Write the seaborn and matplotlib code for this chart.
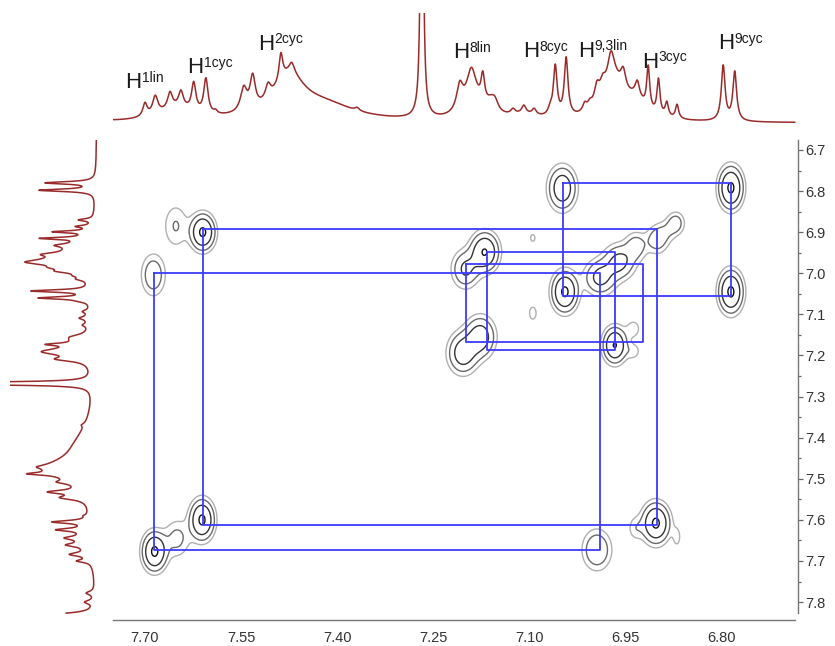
import numpy as np
import pandas as pd
import matplotlib
matplotlib.use("Agg")
import matplotlib.pyplot as plt
import matplotlib.transforms as mtransforms
from matplotlib.ticker import FixedLocator, FixedFormatter
import seaborn as sns

# ---------------- 1D 1H spectrum (projection), peak list -------------
peak_ppm = [7.650, 7.475, 7.420, 7.190, 7.160, 7.110, 6.970, 6.935,
            7.700, 7.684, 7.661, 7.644, 7.624, 7.605, 7.590,
            7.546, 7.532, 7.508, 7.488, 7.471, 7.369, 7.268,
            7.209, 7.191, 7.173, 7.154, 7.126, 7.109, 7.093, 7.068,
            7.060, 7.043, 7.014, 7.006, 6.995, 6.986, 6.973, 6.954,
            6.932, 6.915, 6.899, 6.886, 6.870, 6.798, 6.780,
            7.778, 7.800, 7.832]
peak_height = [12, 40, 15, 32, 12, 5, 38, 16,
               13, 18, 16, 16, 28, 35, 3,
               23, 32, 14, 27, 10, 3, 500,
               25, 16, 28, 8, 5, 8, 6, 6,
               50, 58, 8, 6, 18, 13, 26, 20,
               15, 42, 35, 14, 14, 55, 49,
               8, 9, 50]
peak_hwhm = [0.035, 0.030, 0.060, 0.014, 0.010, 0.030, 0.020, 0.020,
             0.004, 0.005, 0.0045, 0.0045, 0.004, 0.004, 0.003,
             0.006, 0.005, 0.005, 0.0035, 0.005, 0.004, 0.0019,
             0.006, 0.007, 0.0035, 0.006, 0.004, 0.004, 0.004, 0.004,
             0.0035, 0.0035, 0.004, 0.004, 0.005, 0.005, 0.006, 0.005,
             0.004, 0.0028, 0.0028, 0.003, 0.003, 0.0035, 0.0035,
             0.005, 0.005, 0.006]

# ---------------- 2D COSY peaks (F2 ppm, F1 ppm, amplitude, widths) -------------------------
pk_f2 = [6.786, 6.786, 7.049, 7.045,
         7.610, 7.652, 7.687,
         7.685, 7.650, 7.611,
         6.995, 6.903, 6.935, 6.870,
         7.170, 7.200, 7.177, 7.204,
         7.095, 7.095,
         6.990, 6.960, 6.934, 6.901, 6.886, 6.872,
         6.967, 6.938, 6.938]
pk_f1 = [6.792, 7.045, 6.793, 7.045,
         6.900, 6.885, 7.004,
         7.677, 7.645, 7.600,
         7.673, 7.608, 7.620, 7.642,
         6.948, 6.990, 7.155, 7.194,
         6.914, 7.097,
         7.010, 6.972, 6.934, 6.918, 6.898, 6.878,
         7.175, 7.135, 7.190]
pk_amp = [8.5, 8.5, 6.5, 8.5,
          8.5, 2.1, 3.5,
          8.5, 2.5, 8.5,
          4.0, 8.5, 1.6, 1.3,
          8.0, 4.5, 6.0, 6.0,
          1.25, 1.3,
          5.0, 5.0, 3.0, 3.2, 1.4, 3.0,
          8.0, 1.6, 1.5]
pk_sx = [0.0113, 0.0113, 0.013, 0.012,
         0.0113, 0.0128, 0.0118,
         0.0113, 0.013, 0.0113,
         0.014, 0.0128, 0.008, 0.005,
         0.013, 0.013, 0.014, 0.014,
         0.005, 0.007,
         0.015, 0.015, 0.011, 0.011, 0.010, 0.009,
         0.011, 0.008, 0.008]
pk_sy = [0.0306, 0.0306, 0.0316, 0.029,
         0.026, 0.036, 0.032,
         0.028, 0.030, 0.029,
         0.0306, 0.029, 0.020, 0.020,
         0.028, 0.028, 0.030, 0.030,
         0.012, 0.020,
         0.026, 0.026, 0.022, 0.022, 0.018, 0.018,
         0.026, 0.016, 0.014]
contour_levels = [1.0, 2.0, 4.0, 7.8]
contour_colors = ["#b0b0b0", "#6a6a6a", "#333333", "#111111"]

# ---------------- connectivity rectangles ---------------------------------------------------
rect_f2_a = [7.048, 7.610, 7.686, 7.166, 7.200]
rect_f2_b = [6.786, 6.901, 6.990, 6.967, 6.923]
rect_f1_a = [6.780, 6.892, 6.999, 6.948, 6.978]
rect_f1_b = [7.055, 7.612, 7.673, 7.187, 7.166]

# ---------------- assignments on the top trace ---------------------------------------------
label_sup = ["1lin", "1cyc", "2cyc", "8lin", "8cyc", "9,3lin", "3cyc", "9cyc"]
label_ppm = [7.731, 7.634, 7.524, 7.220, 7.110, 7.025, 6.925, 6.806]
label_h = [35, 50, 73, 65, 66, 66, 55, 74]

# axis ticks
xtick_major = [7.75, 7.70, 7.65, 7.60, 7.55, 7.50, 7.45, 7.40, 7.35, 7.30, 7.25, 7.20,
               7.15, 7.10, 7.05, 7.00, 6.95, 6.90, 6.85, 6.80, 6.75, 6.70]
xtick_labels = ["", "7.70", "", "", "7.55", "", "", "7.40", "", "", "7.25", "",
                "", "7.10", "", "", "6.95", "", "", "6.80", "", ""]
ytick_major = [6.7, 6.8, 6.9, 7.0, 7.1, 7.2, 7.3, 7.4, 7.5, 7.6, 7.7, 7.8]

# ==========================================================================================
sns.set_style("white")
plt.rcParams["font.family"] = ["Liberation Sans", "DejaVu Sans"]

W, H = 835, 646
fig = plt.figure(figsize=(W / 100, H / 100), dpi=100)

def box(x0, y0, x1, y1):
    return [x0 / W, 1 - y1 / H, (x1 - x0) / W, (y1 - y0) / H]

XL = (7.7499, 6.6813)
YL = (7.8436, 6.6757)

ax = fig.add_axes(box(113, 140, 798, 620))
ax_top = fig.add_axes(box(113, 13, 798, 127))
ax_side = fig.add_axes(box(10, 140, 100, 620))

# ---- 1D spectrum
def spectrum(ppm):
    s = np.zeros_like(ppm)
    for c, h, w in zip(peak_ppm, peak_height, peak_hwhm):
        s += h / (1 + ((ppm - c) / w) ** 2)
    return s

red = "#9a2b2b"
pt = np.linspace(7.7499, 6.686, 4000)
df_top = pd.DataFrame({"ppm": pt, "I": spectrum(pt)})
sns.lineplot(data=df_top, x="ppm", y="I", ax=ax_top, color=red, lw=1.1,
             estimator=None, sort=False)
ax_top.set_xlim(*XL)
ax_top.set_ylim(-4, 110)
ax_top.axis("off")

ps = np.linspace(6.676, 7.827, 4000)
df_side = pd.DataFrame({"ppm": ps, "I": spectrum(ps)})
sns.lineplot(data=df_side, x="I", y="ppm", ax=ax_side, color=red, lw=1.1,
             estimator=None, sort=False)
ax_side.set_ylim(*YL)
ax_side.set_xlim(87, -3)
ax_side.axis("off")

for sup, lp, lh in zip(label_sup, label_ppm, label_h):
    ax_top.text(lp, lh, "H", fontsize=16, color="#1a1a1a", ha="left", va="baseline")
    tr = mtransforms.offset_copy(ax_top.transData, fig=fig, x=16.5, y=6.5, units="dots")
    ax_top.text(lp, lh, sup, fontsize=10, color="#1a1a1a", ha="left", va="baseline",
                transform=tr)

# ---- 2D contour
f2 = np.linspace(6.68, 7.75, 600)
f1 = np.linspace(6.67, 7.85, 600)
F2, F1 = np.meshgrid(f2, f1)
Z = np.zeros_like(F2)
for x0, y0, a, sx, sy in zip(pk_f2, pk_f1, pk_amp, pk_sx, pk_sy):
    Z += a * np.exp(-((F2 - x0) ** 2 / (2 * sx ** 2) + (F1 - y0) ** 2 / (2 * sy ** 2)))
ax.contour(F2, F1, Z, levels=contour_levels, colors=contour_colors, linewidths=1.0)

blue = "#3b3bff"
for xa, xb, ya, yb in zip(rect_f2_a, rect_f2_b, rect_f1_a, rect_f1_b):
    ax.plot([xa, xb, xb, xa, xa], [ya, ya, yb, yb, ya], color=blue, lw=1.3, zorder=5)

ax.set_xlim(*XL)
ax.set_ylim(*YL)
ax.set_xlabel("")
ax.set_ylabel("")

for s in ["top", "left"]:
    ax.spines[s].set_visible(False)
for s in ["right", "bottom"]:
    ax.spines[s].set_color("#777777")
    ax.spines[s].set_linewidth(1.0)
ax.spines["bottom"].set_bounds(7.75, 6.686)
ax.spines["right"].set_bounds(6.676, 7.827)

ax.yaxis.tick_right()
ax.xaxis.set_major_locator(FixedLocator(xtick_major))
ax.xaxis.set_major_formatter(FixedFormatter(xtick_labels))
ax.xaxis.set_minor_locator(FixedLocator([v - 0.025 for v in xtick_major[:-1]]))
ax.yaxis.set_major_locator(FixedLocator(ytick_major))
ax.yaxis.set_major_formatter(FixedFormatter([f"{v:.1f}" for v in ytick_major]))
ax.yaxis.set_minor_locator(FixedLocator([v + 0.05 for v in ytick_major[:-1]]))
ax.tick_params(axis="both", which="major", direction="out", length=3.8, width=0.9,
               color="#666666", labelcolor="#333333", labelsize=10.5)
ax.tick_params(axis="both", which="minor", direction="out", length=2.2, width=0.9,
               color="#666666")
ax.tick_params(axis="x", which="major", pad=4)
ax.tick_params(axis="y", which="major", pad=1.5)

fig.savefig("out.png", dpi=100)
